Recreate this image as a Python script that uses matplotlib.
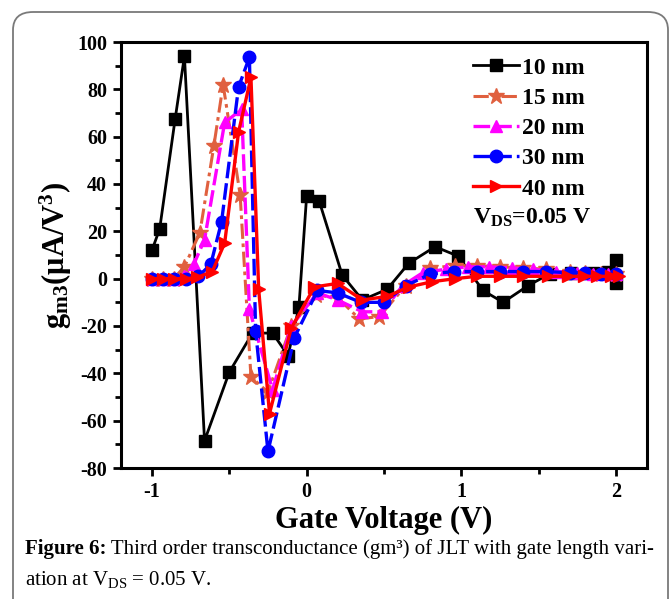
import matplotlib
matplotlib.use("Agg")
import matplotlib.pyplot as plt
from matplotlib.patches import FancyBboxPatch
from matplotlib.ticker import MultipleLocator

plt.rcParams['font.family'] = ['Liberation Serif', 'DejaVu Serif']
plt.rcParams['mathtext.fontset'] = 'custom'
plt.rcParams['mathtext.rm'] = 'Liberation Serif'
plt.rcParams['mathtext.it'] = 'Liberation Serif:italic'
plt.rcParams['mathtext.bf'] = 'Liberation Serif:bold'
plt.rcParams['axes.unicode_minus'] = False
plt.rcParams['lines.dash_joinstyle'] = 'miter'

# ---- data ----
labels = ["10 nm", "15 nm", "20 nm", "30 nm", "40 nm"]

x10 = [-1.0, -0.95, -0.85, -0.79, -0.66, -0.5, -0.35, -0.22, -0.12, -0.05, 0.0, 0.08, 0.23,
       0.36, 0.52, 0.66, 0.83, 0.98, 1.14, 1.27, 1.43, 1.57, 1.71, 1.85, 1.95, 2.0, 2.0]
y10 = [12, 21, 67.5, 94, -68.5, -39.5, -23, -23, -32.5, -12, 35, 33, 1.5,
       -9, -4.5, 6.5, 13.5, 9.5, -5, -10, -3, 2, 2.5, 2.5, 3, 8, -2]

x15 = [-1.0, -0.93, -0.86, -0.79, -0.69, -0.6, -0.54, -0.43, -0.36, -0.25, -0.1, 0.06, 0.2,
       0.34, 0.47, 0.64, 0.8, 0.96, 1.1, 1.25, 1.4, 1.55, 1.7, 1.8, 1.9, 2.0]
y15 = [0, 0, 0, 5, 19.5, 56, 82, 35.5, -41.5, -48, -20, -7, -8,
       -17, -16, -3, 4.5, 5.5, 5.5, 5, 4.5, 4, 3, 2.5, 2, 2]

x20 = [-1.0, -0.93, -0.86, -0.79, -0.73, -0.66, -0.53, -0.42, -0.37, -0.22, -0.1, 0.07, 0.2,
       0.36, 0.49, 0.62, 0.75, 0.9, 1.04, 1.18, 1.33, 1.46, 1.61, 1.75, 1.85, 1.95, 2.0]
y20 = [0, 0, 0, 1, 6, 16.5, 66, 71.5, -13, -47, -20, -6, -9,
       -14, -14, -3, 2.5, 4, 5, 5, 4.5, 4, 3, 2.5, 2, 2, 2]

x30 = [-1.0, -0.93, -0.86, -0.78, -0.7, -0.62, -0.55, -0.44, -0.37, -0.33, -0.25, -0.08, 0.07,
       0.2, 0.35, 0.5, 0.64, 0.8, 0.95, 1.1, 1.25, 1.4, 1.55, 1.7, 1.8, 1.9, 2.0]
y30 = [0, 0, 0, 0, 1, 6, 24, 81, 93.5, -22, -73, -25, -5,
       -6, -10, -10, -3, 2, 3, 3, 3, 3, 3, 2.5, 2.5, 2, 2]

x40 = [-1.0, -0.93, -0.86, -0.78, -0.71, -0.61, -0.53, -0.44, -0.36, -0.31, -0.24, -0.1, 0.05,
       0.2, 0.36, 0.52, 0.66, 0.81, 0.96, 1.1, 1.25, 1.4, 1.56, 1.69, 1.79, 1.88, 1.97, 2.02]
y40 = [0, 0, 0, 0, 0.5, 3, 15, 62, 85, -4.5, -57, -21, -3.5,
       -2, -9, -7.5, -3.5, -1.3, 0, 1, 1, 1, 1, 1, 1, 1, 1, 1]

xticks = [-1, 0, 1, 2]
yticks = [-80, -60, -40, -20, 0, 20, 40, 60, 80, 100]

# ---- figure ----
fig = plt.figure(figsize=(6.71, 5.99), dpi=100)
W, H = 671, 599

box = FancyBboxPatch((13 / W, -40 / H), (668 - 13) / W, (587 + 40) / H,
                     boxstyle="round,pad=0,rounding_size=0.03",
                     transform=fig.transFigure, facecolor='none',
                     edgecolor='#7a7a7a', linewidth=1.3, zorder=0)
fig.patches.append(box)

ax = fig.add_axes([121 / W, 1 - 468 / H, (647 - 121) / W, (468 - 42) / H])

styles = [
    dict(color='black', ls='-', marker='s', ms=8, lw=2.0),
    dict(color='#E0603F', ls=(0, (5, 1.5, 1.2, 1.5)), marker='*', ms=12, lw=2.2),
    dict(color='#FF00FF', ls=(0, (5, 1.5)), marker='^', ms=9, lw=2.4),
    dict(color='#0000FF', ls=(0, (5, 1.5)), marker='o', ms=9, lw=2.4),
    dict(color='#FF0000', ls='-', marker='>', ms=9, lw=2.4),
]
xs = [x10, x15, x20, x30, x40]
ys = [y10, y15, y20, y30, y40]
for xv, yv, lab, st in zip(xs, ys, labels, styles):
    ax.plot(xv, yv, label=lab, color=st['color'], ls=st['ls'], marker=st['marker'],
            ms=st['ms'], lw=st['lw'], markeredgecolor=st['color'], markerfacecolor=st['color'])

ax.set_xlim(-1.2, 2.2)
ax.set_ylim(-80, 100)
ax.set_xticks(xticks)
ax.set_yticks(yticks)
ax.xaxis.set_minor_locator(MultipleLocator(0.5))
ax.yaxis.set_minor_locator(MultipleLocator(10))
ax.tick_params(which='major', direction='out', length=6, width=2, labelsize=14.5, pad=4,
               top=False, right=False)
ax.tick_params(which='minor', direction='out', length=4, width=2, top=False, right=False)
for lbl in ax.get_xticklabels() + ax.get_yticklabels():
    lbl.set_fontweight('bold')
for sp in ax.spines.values():
    sp.set_linewidth(2.2)

ax.set_xlabel('Gate Voltage (V)', fontsize=22, fontweight='bold', labelpad=3)
ax.set_ylabel(r'$\mathbf{g_{m3}(\mu A/V^{3})}$', fontsize=22, labelpad=2)

leg = ax.legend(loc='upper left', bbox_to_anchor=(473 / W, 1 - 57 / H),
                bbox_transform=fig.transFigure, frameon=False, handlelength=1.95,
                handletextpad=0.12, labelspacing=0.37, borderpad=0, borderaxespad=0,
                prop={'family': 'Liberation Serif', 'weight': 'bold', 'size': 17})
fig.text(473 / W, 1 - 218 / H, r'$\mathbf{V_{DS}}$=0.05 V', fontsize=17, fontweight='bold',
         va='center', ha='left')

# ---- caption ----
fig.canvas.draw()
r = fig.canvas.get_renderer()
cap_size = 14
t1 = fig.text(25 / W, 1 - 549 / H, 'Figure 6:', fontsize=cap_size, fontweight='bold',
              va='center', ha='left')
rest = ' Third order transconductance (gm\u00b3) of JLT with gate length vari-'
t2 = fig.text(0, 1 - 549 / H, rest, fontsize=cap_size, va='center', ha='left')
w1 = t1.get_window_extent(r).width
w2 = t2.get_window_extent(r).width
scale = (655 - 25) / (w1 + w2)
cap_size = cap_size * scale
t1.set_fontsize(cap_size)
t2.set_fontsize(cap_size)
w1 = t1.get_window_extent(r).width
t2.set_x((25 + w1) / W)
fig.text(25 / W, 1 - 580 / H, r'ation at V$_{\mathrm{DS}}$ = 0.05 V.', fontsize=cap_size,
         va='center', ha='left')

fig.savefig('out.png', dpi=100)
